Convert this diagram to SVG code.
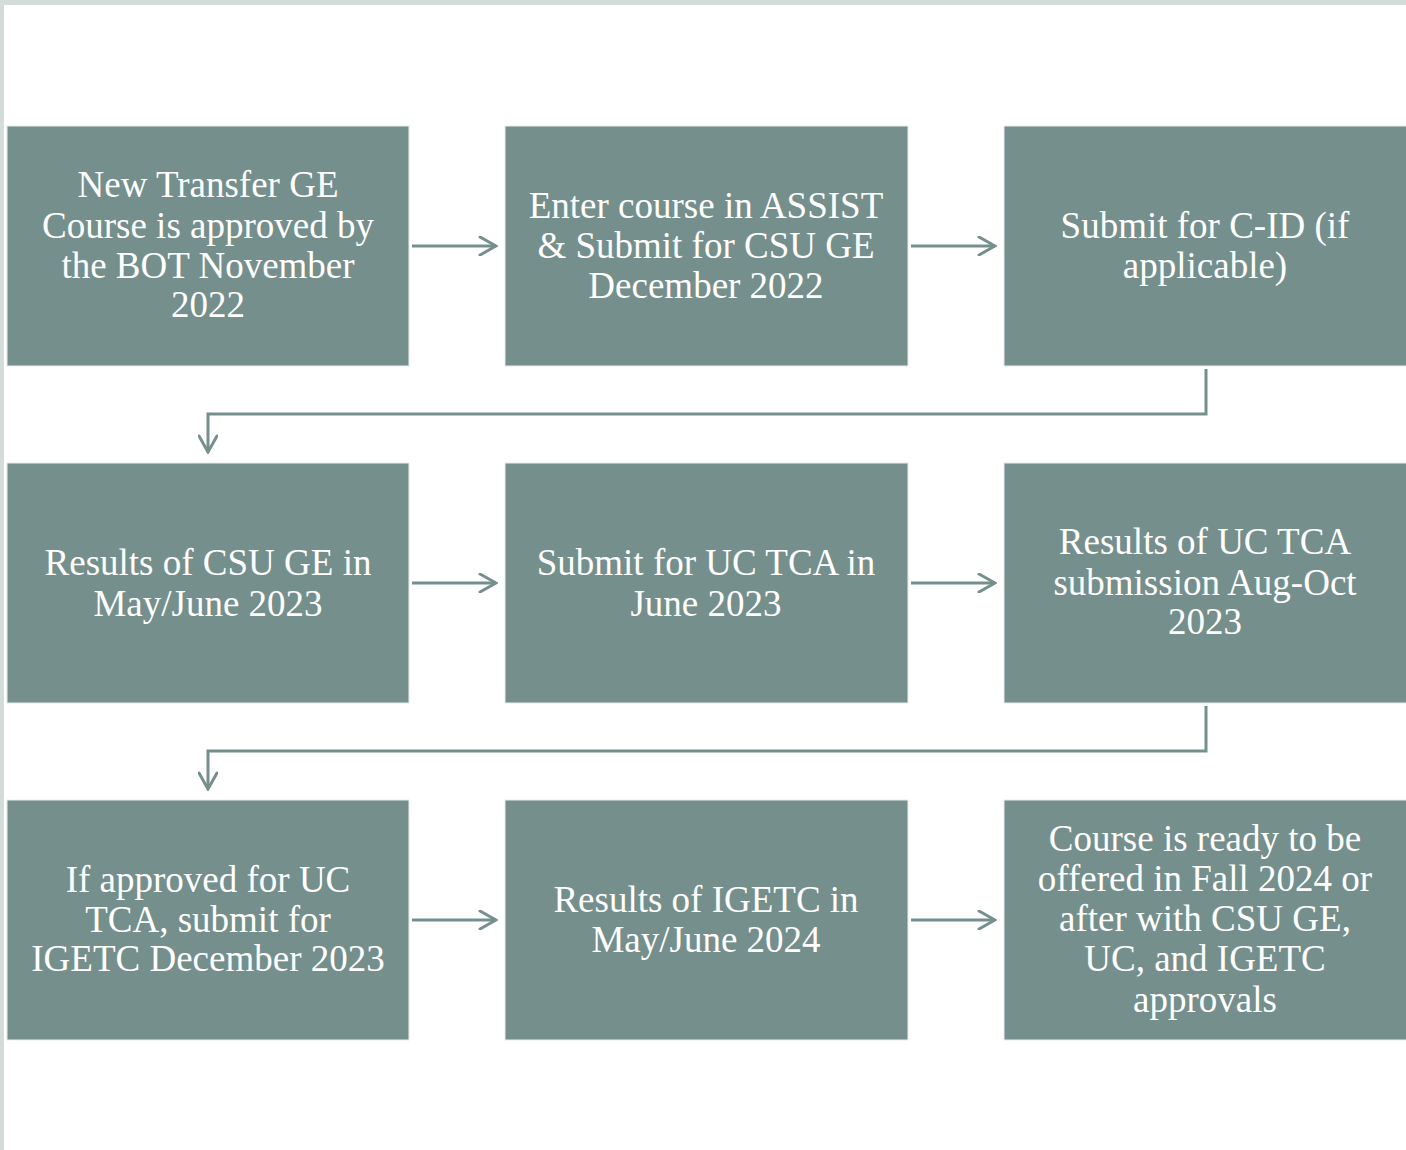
<svg xmlns="http://www.w3.org/2000/svg" width="1406" height="1150" viewBox="0 0 1406 1150">
<defs>
<style>
.box{fill:#758f8c;stroke:#e6ecea;stroke-width:1}
.t{font-family:"Liberation Serif","DejaVu Serif",serif;font-size:37px;fill:#ffffff;text-anchor:middle}
.c{fill:none;stroke:#758f8c;stroke-width:3}
</style>
<marker id="ah" viewBox="0 0 20 20" refX="18" refY="10" markerWidth="20" markerHeight="20" markerUnits="userSpaceOnUse" orient="auto">
<path d="M2,1 L18,10 L2,19" fill="none" stroke="#758f8c" stroke-width="3" stroke-linecap="round"/>
</marker>
</defs>
<rect x="0" y="0" width="1406" height="1150" fill="#ffffff"/>
<rect x="0" y="0" width="1406" height="5" fill="#d3dcd9"/>
<rect x="0" y="0" width="4" height="1150" fill="#d3dcd9"/>

<g id="connectors">
<line class="c" x1="412" y1="246" x2="496" y2="246" marker-end="url(#ah)"/>
<line class="c" x1="911" y1="246" x2="995" y2="246" marker-end="url(#ah)"/>
<line class="c" x1="412" y1="583" x2="496" y2="583" marker-end="url(#ah)"/>
<line class="c" x1="911" y1="583" x2="995" y2="583" marker-end="url(#ah)"/>
<line class="c" x1="412" y1="920" x2="496" y2="920" marker-end="url(#ah)"/>
<line class="c" x1="911" y1="920" x2="995" y2="920" marker-end="url(#ah)"/>
<polyline class="c" points="1206,369 1206,414 208,414 208,452" marker-end="url(#ah)"/>
<polyline class="c" points="1206,706 1206,751 208,751 208,789" marker-end="url(#ah)"/>
</g>

<g id="n1"><rect class="box" x="7" y="126" width="402" height="240"/>
<text class="t"><tspan x="208" y="197">New Transfer GE</tspan><tspan x="208" y="238">Course is approved by</tspan><tspan x="208" y="278">the BOT November</tspan><tspan x="208" y="317">2022</tspan></text></g>
<g id="n2"><rect class="box" x="505" y="126" width="403" height="240"/>
<text class="t"><tspan x="706" y="218">Enter course in ASSIST</tspan><tspan x="706" y="258">&amp; Submit for CSU GE</tspan><tspan x="706" y="298">December 2022</tspan></text></g>
<g id="n3"><rect class="box" x="1004" y="126" width="403" height="240"/>
<text class="t"><tspan x="1205" y="238">Submit for C-ID (if</tspan><tspan x="1205" y="278">applicable)</tspan></text></g>

<g id="n4"><rect class="box" x="7" y="463" width="402" height="240"/>
<text class="t"><tspan x="208" y="575">Results of CSU GE in</tspan><tspan x="208" y="616">May/June 2023</tspan></text></g>
<g id="n5"><rect class="box" x="505" y="463" width="403" height="240"/>
<text class="t"><tspan x="706" y="575">Submit for UC TCA in</tspan><tspan x="706" y="616">June 2023</tspan></text></g>
<g id="n6"><rect class="box" x="1004" y="463" width="403" height="240"/>
<text class="t"><tspan x="1205" y="554">Results of UC TCA</tspan><tspan x="1205" y="595">submission Aug-Oct</tspan><tspan x="1205" y="634">2023</tspan></text></g>

<g id="n7"><rect class="box" x="7" y="800" width="402" height="240"/>
<text class="t"><tspan x="208" y="892">If approved for UC</tspan><tspan x="208" y="932">TCA, submit for</tspan><tspan x="208" y="971">IGETC December 2023</tspan></text></g>
<g id="n8"><rect class="box" x="505" y="800" width="403" height="240"/>
<text class="t"><tspan x="706" y="912">Results of IGETC in</tspan><tspan x="706" y="952">May/June 2024</tspan></text></g>
<g id="n9"><rect class="box" x="1004" y="800" width="403" height="240"/>
<text class="t"><tspan x="1205" y="851">Course is ready to be</tspan><tspan x="1205" y="891">offered in Fall 2024 or</tspan><tspan x="1205" y="931">after with CSU GE,</tspan><tspan x="1205" y="971">UC, and IGETC</tspan><tspan x="1205" y="1012">approvals</tspan></text></g>
</svg>
